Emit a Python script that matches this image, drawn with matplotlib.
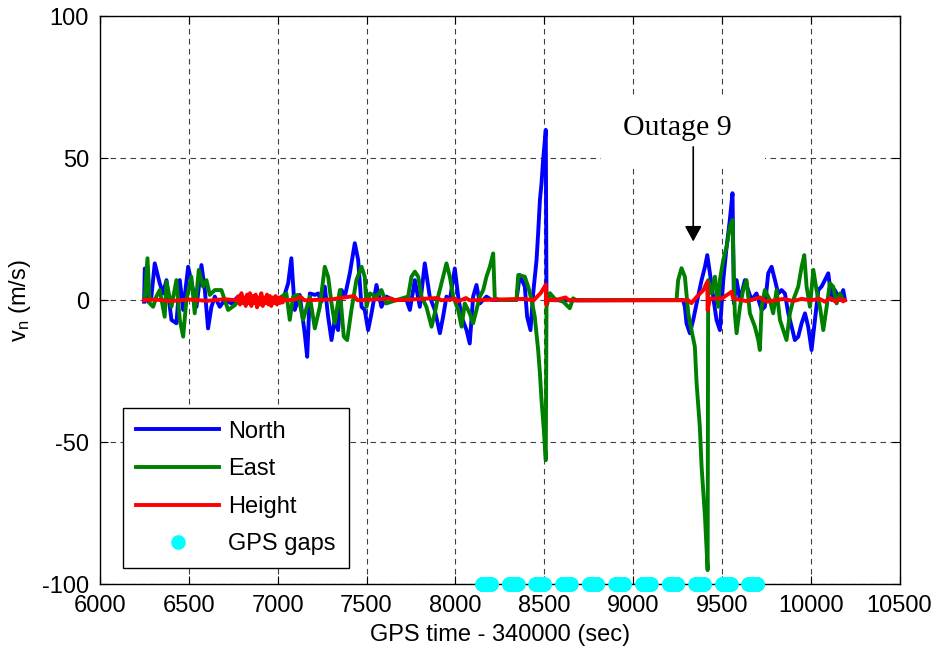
import numpy as np
import matplotlib
matplotlib.use("Agg")
import matplotlib.pyplot as plt
from matplotlib.patches import Rectangle

plt.rcParams['font.family'] = ['Liberation Sans', 'DejaVu Sans']
plt.rcParams['mathtext.default'] = 'regular'
plt.rcParams['axes.unicode_minus'] = False

# North velocity (m/s) vs GPS time - 340000 (s)
north_t = [6248, 6252, 6270, 6289, 6308, 6336, 6355, 6374, 6402, 6430, 6449, 6468, 6496, 6524,
           6543, 6571, 6590, 6608, 6627, 6646, 6674, 6702, 6740, 6777, 6834, 6909, 6993, 7030,
           7059, 7077, 7096, 7124, 7152, 7166, 7181, 7209, 7228, 7246, 7265, 7284, 7303, 7321,
           7340, 7359, 7378, 7406, 7434, 7453, 7472, 7490, 7509, 7528, 7556, 7584, 7612, 7650,
           7725, 7744, 7772, 7800, 7828, 7856, 7884, 7913, 7931, 7950, 7969, 7997, 8016, 8035,
           8063, 8081, 8100, 8119, 8138, 8175, 8204, 8344, 8363, 8391, 8404, 8423, 8438, 8457,
           8466, 8476, 8485, 8494, 8509, 8513, 8600, 9282, 9292, 9301, 9320, 9339, 9358, 9386,
           9405, 9418, 9433, 9451, 9470, 9489, 9508, 9527, 9545, 9560, 9568, 9583, 9602, 9630,
           9648, 9667, 9695, 9724, 9742, 9761, 9780, 9799, 9817, 9836, 9855, 9874, 9893, 9911,
           9930, 9949, 9968, 9986, 10005, 10024, 10043, 10061, 10080, 10099, 10118, 10136,
           10165, 10183, 10193]
north_v = [-0.5, 11.2, -0.5, 1.3, 13, 6, 2.4, 7.1, -6.9, -8.1, 7.1, -3.4, 11.8, 3.6,
           -2.3, 12.4, 3.6, -9.9, -2.3, 1.3, -2.3, 0.1, -1.1, 1.3, -0.5, 0.7, 0.1, 0.1,
           6, 14.8, -3.4, 1.9, -11.6, -19.9, 2.4, 1.9, 2.4, -0.5, 4.8, -5.8, -14, -6.9,
           -10.5, 3.6, 1.3, 9.5, 20.1, 14.2, -2.3, -3.4, -10.5, -4.6, 5.4, -2.3, 1.3, 0.1,
           0.1, -3.4, 7.1, -2.3, 13, 1.3, -3.4, -11.6, -5.8, 1.3, 0.1, 11.2, 1.3, -5.8,
           -10.5, -15.2, 1.3, 5.4, -1.1, 1.3, 0.1, 0.1, 8.9, 4.8, -5.8, -10.5, 2.4, 14.2,
           23.6, 35.3, 41.2, 49.4, 60, 0.1, 0, 0.1, -2.3, -8.1, -11.6, -6.9, -1.1, 7.1,
           11.8, 15.9, 9.5, 1.3, -6.9, -10.5, 7.1, 18.9, 28.3, 37.7, -1.1, 7.1, 0.1, 7.1,
           3.6, 0.1, 2.4, -3.4, -2.3, 9.5, 11.8, 7.1, 2.4, 3.6, 2.4, -4.6, -9.3, -14,
           -12.8, -8.1, -4.6, -9.3, -17.5, -6.9, 3.6, 4.8, 7.1, 9.5, 0.1, 3.6,
           0.1, 3.6, 0.1]

# East velocity (m/s)
east_t = [6248, 6252, 6267, 6280, 6299, 6317, 6336, 6364, 6374, 6402, 6430, 6449, 6468, 6486,
          6514, 6533, 6556, 6580, 6599, 6618, 6646, 6683, 6721, 6759, 6796, 6852, 6909, 6993,
          7049, 7068, 7087, 7115, 7143, 7181, 7209, 7237, 7265, 7284, 7303, 7321, 7350, 7372,
          7391, 7415, 7443, 7472, 7490, 7500, 7519, 7556, 7584, 7612, 7669, 7734, 7753, 7772,
          7791, 7809, 7837, 7866, 7884, 7903, 7931, 7950, 7969, 7988, 8016, 8035, 8053, 8081,
          8100, 8119, 8138, 8157, 8175, 8194, 8213, 8222, 8250, 8344, 8354, 8391, 8410, 8429,
          8447, 8466, 8476, 8485, 8498, 8509, 8513, 8532, 8560, 8607, 8644, 8663, 8682, 9245,
          9254, 9273, 9292, 9311, 9329, 9348, 9358, 9376, 9386, 9405, 9420, 9423, 9442, 9461,
          9480, 9489, 9508, 9527, 9545, 9560, 9573, 9583, 9602, 9620, 9639, 9658, 9686, 9705,
          9714, 9724, 9742, 9770, 9789, 9808, 9827, 9846, 9864, 9883, 9902, 9930, 9949, 9964,
          9977, 9996, 10015, 10033, 10052, 10071, 10090, 10108, 10127, 10146, 10165, 10183]
east_v = [0.1, 0.7, 14.8, -1.1, -2.3, 1.3, 3.6, -5.8, 6.6, -2.3, 7.1, -6.9, -12.8, 0.1,
          8.3, -4.6, 10.7, 4.8, 7.1, 1.9, 3.6, 3.6, -3.4, -1.7, 1.3, -1.1, 0.7, 0.1,
          2.4, -6.9, 1.3, 1.9, -6.9, 1.3, -9.9, -2.3, 11.8, 8.3, -1.1, -8.1, 3.6, -12.8,
          -14, -3.4, 7.1, 11.8, 8.3, -2.3, 2.4, 1.3, 3.6, -1.1, 0.1, 1.3, 8.3, 10.1,
          8.3, 1.3, -2.3, -9.3, -4.6, 1.3, 8.3, 13, 8.3, 1.3, -3.4, -9.3, -1.1, -4.6,
          -8.1, -3.4, 1.3, 3.6, 8.3, 11.8, 16.5, 0.7, 0.1, 0.1, 8.9, 8.3, 4.8, 0.1,
          -5.8, -17.5, -25.7, -35.1, -45.7, -56.3, -2.3, 2.5, 0.5, -0.5, -2.8, 0.7, 0, 0.1,
          7.1, 11.3, 8.3, -4.6, -10.5, -16.3, -29.3, -44.5, -58.6, -76.2, -95, 7.1, 2.4, 8.3,
          -2.3, 7.1, 14.2, 18.9, 25.9, 28.3, -4.6, -11.6, -2.3, 3.6, 7.1, -4.6, -9.3, -14,
          -17.5, -2.3, 3.6, 0.1, -4.6, 3.6, -6.9, -10.5, -14, -4.6, 0.1, 4.8, 11.8, 15.9,
          4.8, -2.3, 10.7, 3.6, -2.3, -10.5, -2.3, 6, 4.8, -1.1, 2.4, 0.1]

# Height velocity (m/s)
height_t = [6248, 6300, 6400, 6500, 6600, 6700, 6770,
            6780, 6788, 6796, 6804, 6812, 6820, 6828, 6836, 6844, 6852, 6860, 6868, 6876, 6884,
            6892, 6900, 6908, 6916, 6924, 6932, 6940, 6948, 6956, 6964, 6972, 6980, 6988, 6996,
            7004, 7012, 7020, 7028, 7036, 7045,
            7100, 7130, 7150, 7300, 7430, 7450, 7640, 7660, 7900, 7920, 8000, 8010, 8060, 8080,
            8380, 8440, 8480, 8509, 8511, 8520, 8560, 8620, 8640,
            9311, 9329, 9358, 9395, 9418, 9420, 9433, 9470, 9500, 9527, 9555, 9564, 9600,
            9640, 9714, 9752, 9800, 9850, 9900, 9950, 10000, 10050, 10080, 10110, 10140,
            10165, 10183, 10193]
height_v = [0, 0.3, -0.3, 0.3, -0.2, 0.4, 0,
            1.5, -1.5, 2.5, -1, 1, -2, 2, -1, 2.5, -2, 1.5, -1, 2, -2.5,
            1, -1.5, 2.5, -2, 1, -1, 2, -1.5, 1.5, -2, 1, -1, 1.5, -1.5,
            1, -1, 0.8, -0.8, 0.5, 0,
            0.3, 1.2, 0, 0.3, 1.5, 0, 0.6, 0, 0.8, 0, 0.5, -0.5, 0.8, 0,
            0.5, 0, 2.5, 5.5, -1.5, 0.3, 0, 1, 0,
            0, -1, 1.2, 3.5, 6.5, -3.5, 0.6, 0.6, 0.6, 1.8, 3, 0.6, 0.2,
            -0.3, 1, -0.5, 0, 0.5, -0.3, 0.5, 0, 0.5, -0.5, 0.8, -0.5,
            0.6, -0.4, 0]

# GPS outage intervals (s)
gap_start = [8150, 8300, 8450, 8600, 8750, 8900, 9050, 9200, 9350, 9500, 9650]
gap_end = [8200, 8350, 8500, 8650, 8800, 8950, 9100, 9250, 9400, 9550, 9700]

x_ticks = [6000, 6500, 7000, 7500, 8000, 8500, 9000, 9500, 10000, 10500]
y_ticks = [-100, -50, 0, 50, 100]

fig = plt.figure(figsize=(9.41, 6.56), dpi=100)
ax = fig.add_axes([0.1063, 0.1093, 0.8496, 0.8659])

ax.plot(north_t, north_v, color=(0, 0, 1), lw=2.8, label='North', zorder=3)
ax.plot(east_t, east_v, color=(0, 0.5, 0), lw=2.8, label='East', zorder=3)
ax.plot(height_t, height_v, color=(1, 0, 0), lw=2.8, label='Height', zorder=3)

gap_x = np.concatenate([np.arange(s, e + 1, 2) for s, e in zip(gap_start, gap_end)])
ax.plot(gap_x, np.full(gap_x.shape, -100.0), linestyle='none', marker='o', ms=9.5,
        mfc=(0, 1, 1), mec=(0, 1, 1), label='GPS gaps', clip_on=False, zorder=5)

ax.set_xlim(6000, 10500)
ax.set_ylim(-100, 100)
ax.set_xticks(x_ticks)
ax.set_yticks(y_ticks)

ax.set_axisbelow(True)
ax.grid(True, color='0.25', linestyle=(0, (5, 4)), linewidth=0.8)
ax.tick_params(direction='in', length=6, width=0.8, top=True, right=True,
               labelsize=17, pad=8)
for sp in ax.spines.values():
    sp.set_linewidth(1.0)

ax.set_xlabel('GPS time - 340000 (sec)', fontsize=17, labelpad=5)
ax.set_ylabel('$\\mathregular{v_n}$ (m/s)', fontsize=17, labelpad=6)

# annotation for outage 9
ax.add_patch(Rectangle((8820, 47.5), 925, 24, facecolor='white', edgecolor='none', zorder=2))
ax.text(9247, 58.2, 'Outage 9', family=['Liberation Serif', 'DejaVu Serif'], fontsize=21.5,
        ha='center', va='baseline', zorder=6)
ax.annotate('', xy=(9339, 20.7), xytext=(9339, 54),
            arrowprops=dict(arrowstyle='-|>,head_length=0.55,head_width=0.3', color='k',
                            lw=1.2, mutation_scale=17, shrinkA=0, shrinkB=0), zorder=6)

leg = ax.legend(loc='lower left', bbox_to_anchor=(0.029, 0.028), fontsize=17,
                frameon=True, fancybox=False, framealpha=1, edgecolor='k',
                handlelength=3.5, handletextpad=0.4, borderpad=0.55, labelspacing=0.66,
                borderaxespad=0, numpoints=1)
leg.get_frame().set_linewidth(1.0)
leg.set_zorder(10)

fig.savefig('out.png', dpi=100)
